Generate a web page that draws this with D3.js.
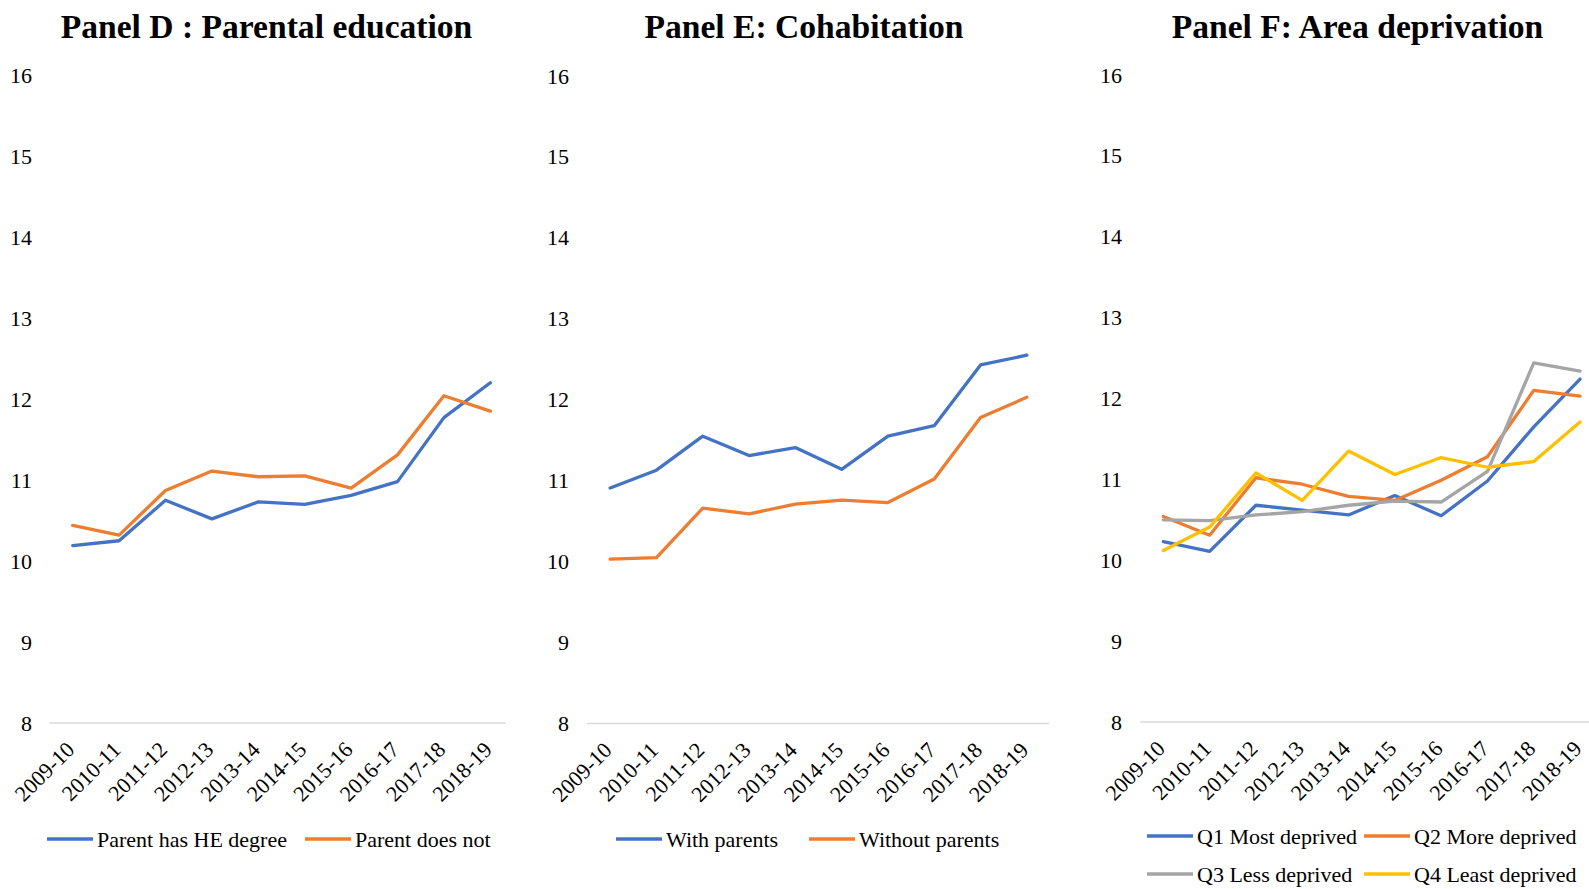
<!DOCTYPE html>
<html><head><meta charset="utf-8">
<script src="https://cdn.jsdelivr.net/npm/d3@7"></script>
<style>
html,body{margin:0;padding:0;background:#fff;}
text{font-family:"Liberation Serif","Times New Roman",serif;fill:#000;}
</style></head>
<body>
<svg id="chart" width="1589" height="889"></svg>
<script>
const years = ["2009-10","2010-11","2011-12","2012-13","2013-14","2014-15","2015-16","2016-17","2017-18","2018-19"];
const yTicks = [8,9,10,11,12,13,14,15,16];

// Panel D
const parentHE    = [10.19,10.25,10.75,10.52,10.73,10.70,10.81,10.98,11.77,12.20];
const parentNotHE = [10.44,10.32,10.87,11.11,11.04,11.05,10.90,11.31,12.04,11.85];
// Panel E
const withParents    = [10.91,11.13,11.55,11.31,11.41,11.14,11.55,11.68,12.43,12.55];
const withoutParents = [10.03,10.05,10.66,10.59,10.71,10.76,10.73,11.02,11.78,12.03];
// Panel F
const q1Most  = [10.23,10.11,10.68,10.62,10.56,10.80,10.55,10.98,11.65,12.24];
const q2More  = [10.54,10.31,11.02,10.94,10.79,10.74,10.99,11.28,12.10,12.03];
const q3Less  = [10.50,10.49,10.56,10.60,10.68,10.73,10.72,11.10,12.44,12.34];
const q4Least = [10.12,10.41,11.08,10.74,11.35,11.06,11.27,11.15,11.22,11.71];

const panels = [
  {title:"Panel D : Parental education", series:[
      {name:"Parent has HE degree", values:parentHE, color:"#4472C4"},
      {name:"Parent does not", values:parentNotHE, color:"#ED7D31"}],
   titleX:266.5, x0:49.5, x1:513.5, axisEnd:506, yBottom:723, yTop:75, labelX:32,
   legend:[{lx:47,ly:839},{lx:305,ly:839}]},
  {title:"Panel E: Cohabitation", series:[
      {name:"With parents", values:withParents, color:"#4472C4"},
      {name:"Without parents", values:withoutParents, color:"#ED7D31"}],
   titleX:804, x0:587, x1:1050, axisEnd:1049, yBottom:723.5, yTop:76, labelX:569,
   legend:[{lx:616,ly:839},{lx:809,ly:839}]},
  {title:"Panel F: Area deprivation", series:[
      {name:"Q1 Most deprived", values:q1Most, color:"#4472C4"},
      {name:"Q2 More deprived", values:q2More, color:"#ED7D31"},
      {name:"Q3 Less deprived", values:q3Less, color:"#A5A5A5"},
      {name:"Q4 Least deprived", values:q4Least, color:"#FFC000"}],
   titleX:1357.5, x0:1140.2, x1:1603.2, axisEnd:1600, yBottom:722, yTop:75, labelX:1122,
   legend:[{lx:1147,ly:836},{lx:1364,ly:836},{lx:1147,ly:874},{lx:1364,ly:874}]}
];

const svg = d3.select("#chart");
const FS = 22;

panels.forEach(p => {
  const g = svg.append("g");
  const x = d3.scaleBand().domain(years).range([p.x0, p.x1]);
  const y = d3.scaleLinear().domain([8,16]).range([p.yBottom, p.yTop]);

  g.append("text").attr("x", p.titleX).attr("y", 38)
    .attr("text-anchor","middle").attr("font-weight","bold")
    .attr("font-size", 33.6).text(p.title);

  // y tick labels
  const yAxis = d3.axisLeft(y).tickValues(yTicks).tickSize(0).tickPadding(0);
  const ya = g.append("g").attr("transform", `translate(${p.labelX},0)`).call(yAxis);
  ya.select(".domain").remove();
  ya.selectAll("text").attr("font-size", FS).attr("font-family","Liberation Serif").attr("fill","#000");

  // baseline
  g.append("line").attr("x1", p.x0).attr("x2", p.axisEnd)
    .attr("y1", y(8)).attr("y2", y(8))
    .attr("stroke","#d9d9d9").attr("stroke-width",1.3);

  // x tick labels
  const xAxis = d3.axisBottom(x).tickSize(0).tickPadding(0);
  const xa = g.append("g").attr("transform", `translate(0,${y(8)})`).call(xAxis);
  xa.select(".domain").remove();
  xa.selectAll("text")
    .attr("font-size", FS).attr("font-family","Liberation Serif").attr("fill","#000")
    .attr("text-anchor","end").attr("dy", null).attr("y", null)
    .attr("transform","translate(3,28) rotate(-45)");

  const line = d3.line().x((d,i) => x(years[i]) + x.bandwidth()/2).y(d => y(d));
  p.series.forEach(s => {
    g.append("path").datum(s.values).attr("d", line)
      .attr("fill","none").attr("stroke", s.color)
      .attr("stroke-width",3.3).attr("stroke-linejoin","round").attr("stroke-linecap","round");
  });

  // legend
  p.series.forEach((s,i) => {
    const L = p.legend[i];
    g.append("line").attr("x1", L.lx).attr("x2", L.lx+46)
      .attr("y1", L.ly).attr("y2", L.ly)
      .attr("stroke", s.color).attr("stroke-width",3.3);
    g.append("text").attr("x", L.lx+50).attr("y", L.ly)
      .attr("dominant-baseline","central").attr("font-size", FS).text(s.name);
  });
});
</script>
</body></html>
